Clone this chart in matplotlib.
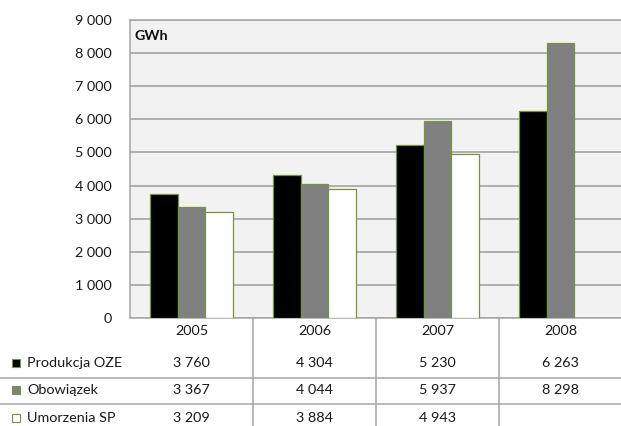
import matplotlib.pyplot as plt
from matplotlib.lines import Line2D
from matplotlib.patches import Rectangle
from matplotlib.ticker import FuncFormatter

plt.rcParams['font.family'] = ['Lato', 'DejaVu Sans']

years = ['2005', '2006', '2007', '2008']
series = ['Produkcja OZE', 'Obowiązek', 'Umorzenia SP']
produkcja = [3760, 4304, 5230, 6263]
obowiazek = [3367, 4044, 5937, 8298]
umorzenia = [3209, 3884, 4943, None]
values = [produkcja, obowiazek, umorzenia]
colors = ['black', '#808080', 'white']
edge = '#77933C'
fs = 10.4

fig = plt.figure(figsize=(6.21, 4.26), dpi=100)
ax = fig.add_axes([130 / 621, 108 / 426, 492 / 621, 298 / 426])
ax.set_facecolor('#F2F2F2')

w = 0.225
for k, vals in enumerate(values):
    for i, v in enumerate(vals):
        if v is None:
            continue
        ax.bar(i + (k - 1) * w, v, width=w, color=colors[k],
               edgecolor=edge, linewidth=0.9, zorder=3)

ax.set_xlim(-0.5, 3.5)
ax.set_ylim(0, 9000)
ax.set_yticks(range(0, 9001, 1000))
ax.yaxis.set_major_formatter(FuncFormatter(lambda v, p: f'{int(v):,}'.replace(',', ' ')))
ax.tick_params(axis='y', length=0, pad=13, labelsize=fs, labelcolor='#1a1a1a')
ax.set_xticks([])
ax.grid(axis='y', color='#9C9C9C', linewidth=1.1, zorder=1)
for s in ax.spines.values():
    s.set_color('#A6A6A6')
    s.set_linewidth(1.1)
ax.spines['right'].set_visible(False)
ax.text(0.01, 0.945, 'GWh', transform=ax.transAxes, fontsize=fs,
        fontweight='bold', va='center', ha='left', color='#111111')

# data table under the axis
tr = ax.get_xaxis_transform()
row_y = [-0.151, -0.2416, -0.3356]
for i, y in enumerate(years):
    ax.text(i, -0.0436, y, transform=tr, ha='center', va='center',
            fontsize=fs, color='#1a1a1a', clip_on=False)
for k, vals in enumerate(values):
    for i, v in enumerate(vals):
        if v is None:
            continue
        ax.text(i, row_y[k], f'{v:,}'.replace(',', ' '), transform=tr,
                ha='center', va='center', fontsize=fs, color='#1a1a1a', clip_on=False)
for xs in [0.5, 1.5, 2.5]:
    ax.add_line(Line2D([xs, xs], [0, -0.4], transform=tr, color='#A6A6A6',
                       linewidth=1.1, clip_on=False))
for yf in [(426 - 378) / 426, (426 - 404) / 426]:
    fig.add_artist(Line2D([0, 1], [yf, yf], transform=fig.transFigure,
                          color='#A6A6A6', linewidth=1.1))

# legend keys in the table rows
for k, name in enumerate(series):
    yf = (108 + row_y[k] * 298) / 426
    fig.add_artist(Rectangle((12 / 621, yf - 4 / 426), 8 / 621, 8 / 426,
                             transform=fig.transFigure, facecolor=colors[k],
                             edgecolor=edge, linewidth=0.8))
    fig.text(27 / 621, yf, name, ha='left', va='center', fontsize=fs, color='#1a1a1a')

fig.savefig('out.png', dpi=100)
